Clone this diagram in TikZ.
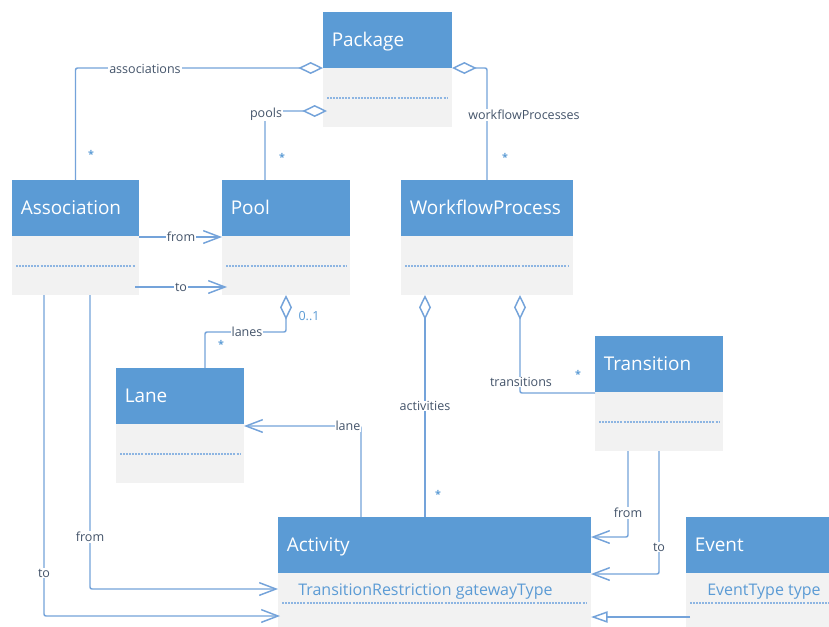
\documentclass[tikz,border=0pt]{standalone}
\usepackage{fontspec}
\setmainfont{Open Sans}
\usetikzlibrary{arrows.meta,calc}
\definecolor{hdrblue}{HTML}{5B9BD5}
\definecolor{bodygray}{HTML}{F2F2F2}
\definecolor{linkblue}{HTML}{74A3DA}
\definecolor{labelgray}{HTML}{44546A}
\definecolor{dotblue}{HTML}{8DB5E2}
\tikzset{
  clshdr/.style={fill=hdrblue, draw=none, anchor=north west, inner sep=0pt, outer sep=0pt},
  clsbody/.style={fill=bodygray, draw=none, inner sep=0pt, outer sep=0pt},
  clstitle/.style={text=white, font=\fontsize{14.2}{16}\selectfont, inner sep=0pt, anchor=base west},
  attrtext/.style={text=hdrblue, font=\fontsize{12}{14}\selectfont, inner sep=0pt, anchor=base west},
  sepline/.style={draw=dotblue, line width=0.9pt, dash pattern=on 1.5pt off 0.8pt},
  link/.style={draw=linkblue, line width=1.1pt, rounded corners=1.5pt},
  nav/.style={link, -{Straight Barb[length=12.5pt,width=9.5pt,line width=1.1pt]}},
  agg/.style={link, {Diamond[open,fill=white,length=18.5pt,width=9pt,line width=1.1pt]}-},
  gen/.style={link, -{Triangle[open,fill=white,length=12.5pt,width=8.5pt,line width=1.1pt]}},
  lbl/.style={fill=white, text=labelgray, font=\fontsize{9.4}{10}\selectfont, inner sep=0.6pt},
  mult/.style={text=hdrblue, font=\fontsize{9.4}{10}\selectfont, inner sep=0.5pt},
  multstar/.style={text=hdrblue, font=\bfseries\fontsize{8}{8}\selectfont, inner sep=0pt},
}
\newcommand\umlclass[6]{%
  \node[clshdr, minimum width={(#4)*0.75pt}, minimum height={56*0.75pt}] (#1) at (#2,#3) {};
  \node[clstitle] (#1t) at ($(#1.west)+(8.5,6.5)$) {#5};
  \node[clsbody, anchor=north west, minimum width={(#4)*0.75pt}, minimum height={(#6)*0.75pt}] (#1b) at (#1.south west) {};
  \draw[sepline] ($(#1b.north west)+(4,30)$) -- ($(#1b.north east)+(-4,30)$);
}
\begin{document}
\begin{tikzpicture}[x=0.75pt,y=-0.75pt]
\clip (0,0) rectangle (829,626);
\fill[white] (0,0) rectangle (829,626);

% classes
\umlclass{pkg}{323}{12}{129}{Package}{59}
\umlclass{assoc}{12}{180}{127}{Association}{59}
\umlclass{pool}{222}{180}{128}{Pool}{59}
\umlclass{wfp}{401}{180}{172}{WorkflowProcess}{59}
\umlclass{lane}{116}{368}{128}{Lane}{59}
\umlclass{trans}{595}{336}{128}{Transition}{59}
\umlclass{act}{278}{517}{313}{Activity}{80}
\umlclass{evt}{686}{517}{160}{Event}{80}
\node[attrtext] (acta) at ($(actb.north west)+(20,22)$) {TransitionRestriction gatewayType};
\node[attrtext] (evta) at ($(evtb.north west)+(21,22)$) {EventType type};

% Package aggregations
\draw[agg] (pkg.south west) -| (assoc.north);
\node[lbl] (l1) at (145,69) {associations};
\node[multstar] (m1) at (91,154) {*};

\draw[agg] ($(pkgb.north west)+(4,43)$) -| ($(pool.north west)+(43,0)$);
\node[lbl] (l2) at (266,114) {pools};
\node[multstar] (m2) at (282,157) {*};

\draw[agg] (pkg.south east) -| (wfp.north);
\node[lbl] (l3) at (524,115) {workflowProcesses};
\node[multstar] (m3) at (505,157) {*};

% Association -> Pool
\draw[nav] ($(assoc.south east)+(0,1)$) -- ($(pool.south west)+(0,1)$);
\node[lbl] (l4) at (181,237) {from};
\draw[nav] ($(assocb.north east)+(-4,51)$) -- ($(poolb.north west)+(5,51)$);
\node[lbl] (l5) at (181,287) {to};

% Pool -> Lane
\draw[agg] (poolb.south) -- ++(0,37) -| ($(lane.north west)+(89,0)$);
\node[lbl] (l6) at (247,332) {lanes};
\node[mult] (m4) at (309,316) {0..1};
\node[multstar] (m5) at (221,344) {*};

% Activity -> Lane
\draw[nav] ($(act.north west)+(83,0)$) |- ($(lane.south east)+(0,2)$);
\node[lbl] (l7) at (348,426) {lane};

% WorkflowProcess -> Activity
\draw[agg] ($(wfpb.south west)+(24,0)$) -- ($(act.north west)+(147,0)$);
\node[lbl] (l8) at (425,406) {activities};
\node[multstar] (m6) at (438,494) {*};

% WorkflowProcess -> Transition
\draw[agg] ($(wfpb.south west)+(119,0)$) |- ($(trans.south west)+(0,1)$);
\node[lbl] (l9) at (521,382) {transitions};
\node[multstar] (m7) at (578,374) {*};

% Transition -> Activity
\draw[nav] ($(transb.south west)+(33,0)$) |- ($(act.north east)+(0,20)$);
\node[lbl] (l10) at (628,513) {from};
\draw[nav] ($(transb.south west)+(64,0)$) |- ($(act.south east)+(0,1)$);
\node[lbl] (l11) at (659,547) {to};

% Association -> Activity
\draw[nav] ($(assocb.south west)+(78,0)$) |- ($(actb.north west)+(0,16)$);
\node[lbl] (l12) at (90,537) {from};
\draw[nav] ($(assocb.south west)+(32,0)$) |- ($(actb.north west)+(2,43)$);
\node[lbl] (l13) at (44,573) {to};

% Event generalization
\draw[gen] ($(evtb.north west)+(4,44)$) -- ($(actb.north east)+(0,44)$);
\end{tikzpicture}
\end{document}
